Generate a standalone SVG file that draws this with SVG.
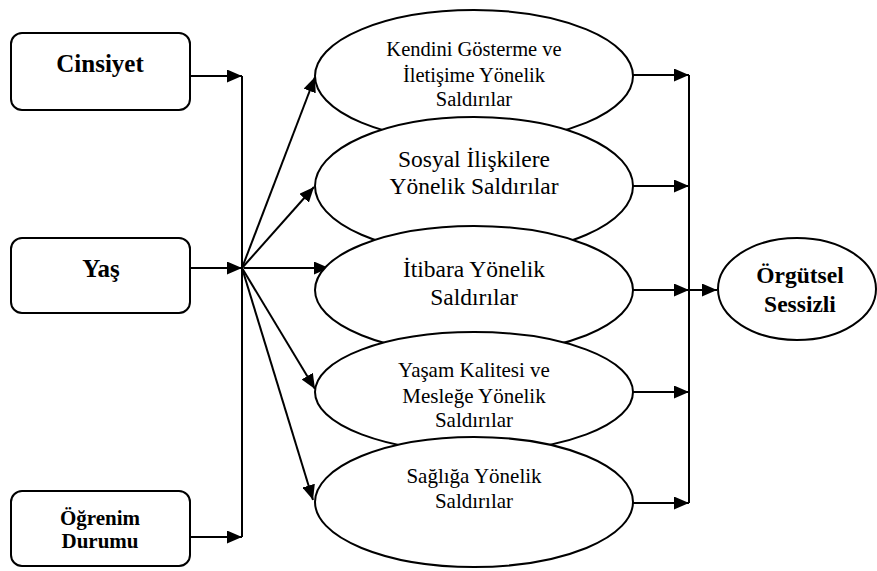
<svg xmlns="http://www.w3.org/2000/svg" width="877" height="571" viewBox="0 0 877 571">
<defs>
<marker id="ah" markerUnits="userSpaceOnUse" markerWidth="15" markerHeight="13" refX="15" refY="6.5" orient="auto">
<path d="M0,0 L15,6.5 L0,13 z" fill="#000"/>
</marker>
<style>
.box{fill:#fff;stroke:#000;stroke-width:2}
.ell{fill:#fff;stroke:#000;stroke-width:2}
.ln{fill:none;stroke:#000;stroke-width:2}
.ar{fill:none;stroke:#000;stroke-width:2;marker-end:url(#ah)}
</style>
</defs>
<rect width="877" height="571" fill="#fff"/>

<g id="connectors">
<line class="ln" x1="242" y1="76" x2="242" y2="537"/>
<line class="ar" x1="190" y1="76" x2="242" y2="76"/>
<line class="ar" x1="190" y1="268" x2="242" y2="268"/>
<line class="ar" x1="190" y1="537" x2="242" y2="537"/>
<line class="ar" x1="242" y1="268" x2="315" y2="77"/>
<line class="ar" x1="242" y1="268" x2="314" y2="187"/>
<line class="ar" x1="244" y1="268" x2="329" y2="268"/>
<line class="ar" x1="242" y1="268" x2="315" y2="389"/>
<line class="ar" x1="242" y1="268" x2="313" y2="500"/>
<line class="ln" x1="689" y1="75" x2="689" y2="503"/>
<line class="ar" x1="633" y1="75" x2="689" y2="75"/>
<line class="ar" x1="633" y1="186" x2="689" y2="186"/>
<line class="ar" x1="633" y1="290" x2="689" y2="290"/>
<line class="ar" x1="633" y1="392" x2="689" y2="392"/>
<line class="ar" x1="633" y1="503" x2="689" y2="503"/>
<line class="ar" x1="689" y1="290" x2="717" y2="290"/>
</g>

<g id="cinsiyet">
<rect class="box" x="11" y="33" width="179" height="77" rx="11"/>
<text x="100" y="72" text-anchor="middle" style="font-family:'Liberation Serif',serif;font-weight:bold;font-size:25px">Cinsiyet</text>
</g>
<g id="yas">
<rect class="box" x="11" y="238" width="179" height="75" rx="11"/>
<text x="101" y="277" text-anchor="middle" style="font-family:'Liberation Serif',serif;font-weight:bold;font-size:25px">Yaş</text>
</g>
<g id="ogrenim">
<rect class="box" x="11" y="491" width="179" height="75" rx="11"/>
<text x="100" y="525" text-anchor="middle" style="font-family:'Liberation Serif',serif;font-weight:bold;font-size:21px">Öğrenim</text>
<text x="100" y="548" text-anchor="middle" style="font-family:'Liberation Serif',serif;font-weight:bold;font-size:21px">Durumu</text>
</g>

<g id="e1">
<ellipse class="ell" cx="474" cy="76" rx="159" ry="66"/>
<text x="474" y="56" text-anchor="middle" style="font-family:'Liberation Serif',serif;font-size:20.5px">Kendini Gösterme ve</text>
<text x="474" y="82" text-anchor="middle" style="font-family:'Liberation Serif',serif;font-size:20.5px">İletişime Yönelik</text>
<text x="474" y="106" text-anchor="middle" style="font-family:'Liberation Serif',serif;font-size:20.5px">Saldırılar</text>
</g>
<g id="e2">
<ellipse class="ell" cx="474" cy="186" rx="159" ry="69"/>
<text x="474" y="167" text-anchor="middle" style="font-family:'Liberation Serif',serif;font-size:23.5px">Sosyal İlişkilere</text>
<text x="474" y="194" text-anchor="middle" style="font-family:'Liberation Serif',serif;font-size:23.5px">Yönelik Saldırılar</text>
</g>
<g id="e3">
<ellipse class="ell" cx="474" cy="290" rx="159" ry="64"/>
<text x="474" y="277" text-anchor="middle" style="font-family:'Liberation Serif',serif;font-size:23.5px">İtibara Yönelik</text>
<text x="474" y="305" text-anchor="middle" style="font-family:'Liberation Serif',serif;font-size:23.5px">Saldırılar</text>
</g>
<g id="e4">
<ellipse class="ell" cx="474" cy="392" rx="159" ry="60"/>
<text x="474" y="377" text-anchor="middle" style="font-family:'Liberation Serif',serif;font-size:21px">Yaşam Kalitesi ve</text>
<text x="474" y="403" text-anchor="middle" style="font-family:'Liberation Serif',serif;font-size:21px">Mesleğe Yönelik</text>
<text x="474" y="427" text-anchor="middle" style="font-family:'Liberation Serif',serif;font-size:21px">Saldırılar</text>
</g>
<g id="e5">
<ellipse class="ell" cx="474" cy="502" rx="159" ry="65"/>
<text x="474" y="483" text-anchor="middle" style="font-family:'Liberation Serif',serif;font-size:21px">Sağlığa Yönelik</text>
<text x="474" y="508" text-anchor="middle" style="font-family:'Liberation Serif',serif;font-size:21px">Saldırılar</text>
</g>

<g id="orgutsel">
<ellipse class="ell" cx="797" cy="289" rx="79" ry="51"/>
<text x="800" y="283" text-anchor="middle" style="font-family:'Liberation Serif',serif;font-weight:bold;font-size:23.5px">Örgütsel</text>
<text x="800" y="312" text-anchor="middle" style="font-family:'Liberation Serif',serif;font-weight:bold;font-size:23.5px">Sessizli</text>
</g>
</svg>
